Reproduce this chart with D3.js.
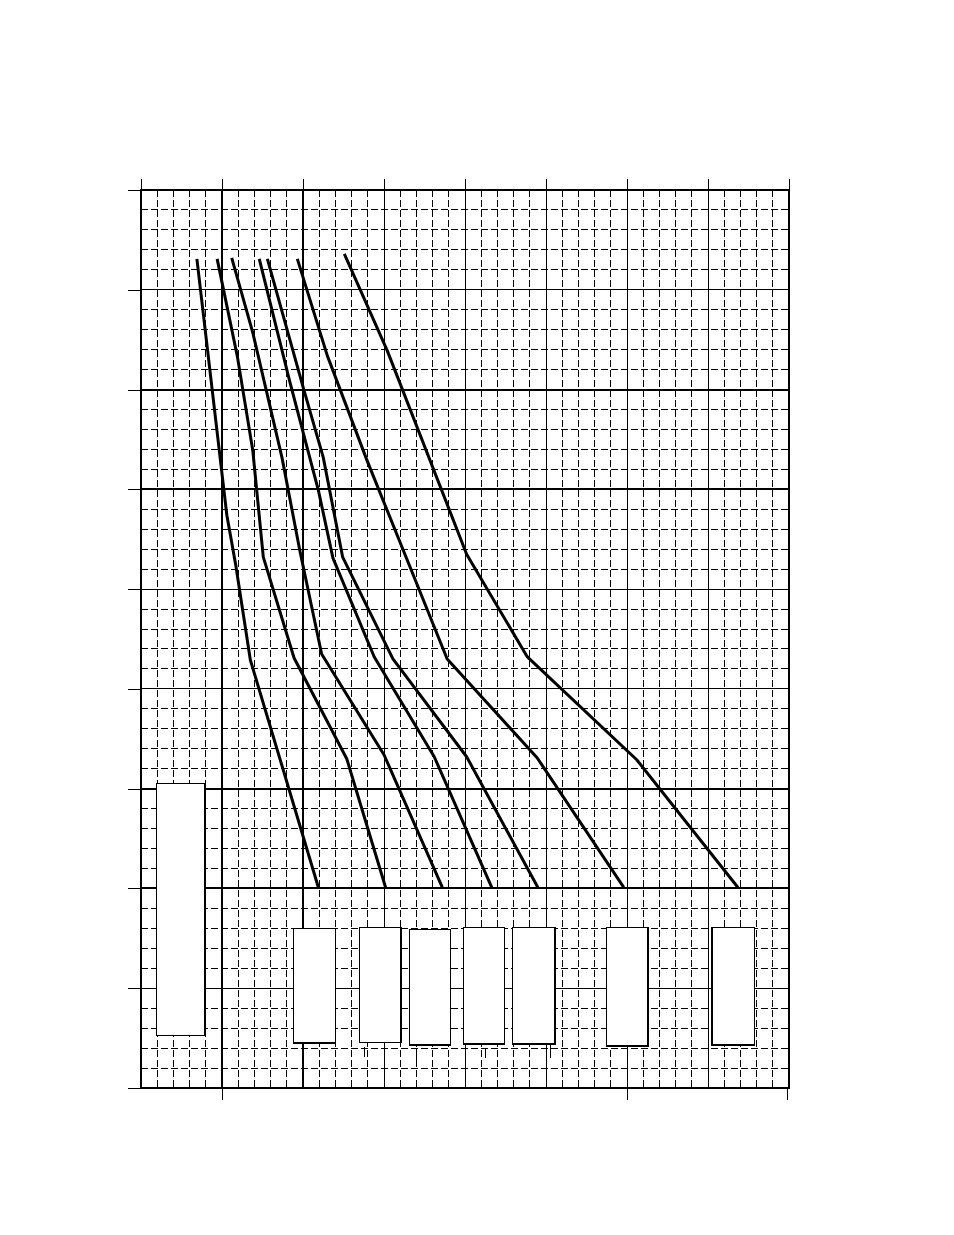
<!DOCTYPE html>
<html>
<head>
<meta charset="utf-8">
<script src="https://cdn.jsdelivr.net/npm/d3@7"></script>
<style>
  html, body { margin: 0; padding: 0; background: #fff; }
  svg { display: block; }
</style>
</head>
<body>
<div id="chart"></div>
<script>
// grid units: x runs 0..8 major columns, y runs 0..9 major rows (0 at the bottom)
const xMajor = d3.range(0, 9);
const yMajor = d3.range(0, 10);
const xThick = [1, 2];
const yThick = [2, 3, 6, 7];
const bottomTicks = [1, 6, 7.97];

// curves as [x, y] in grid units (left to right)
const curveA = [[0.69, 8.31], [1.06, 5.74], [1.17, 5.24], [1.35, 4.29], [2.19, 2.01]];
const curveB = [[0.94, 8.31], [1.19, 7.33], [1.38, 6.39], [1.51, 5.32], [1.89, 4.31], [2.54, 3.30], [3.02, 2.01]];
const curveC = [[1.12, 8.32], [1.38, 7.57], [1.74, 6.32], [1.96, 5.39], [2.23, 4.35], [3.00, 3.34], [3.72, 2.01]];
const curveD = [[1.46, 8.31], [1.84, 7.07], [2.19, 5.99], [2.37, 5.31], [2.88, 4.32], [3.62, 3.32], [4.33, 2.01]];
const curveE = [[1.56, 8.31], [2.01, 7.00], [2.25, 6.32], [2.49, 5.32], [3.11, 4.30], [4.02, 3.32], [4.90, 2.01]];
const curveF = [[1.93, 8.31], [2.30, 7.34], [2.79, 6.29], [3.78, 4.30], [4.89, 3.31], [5.96, 2.01]];
const curveG = [[2.51, 8.36], [3.04, 7.39], [4.02, 5.35], [4.77, 4.32], [6.12, 3.29], [7.37, 2.01]];
const curves = [curveA, curveB, curveC, curveD, curveE, curveF, curveG];

// empty label boxes: [x0, x1, yTop, yBottom]
const labelBoxes = [
    [0.19, 0.79, 3.05, 0.53],
    [1.88, 2.40, 1.60, 0.45],
    [2.70, 3.21, 1.61, 0.46],
    [3.31, 3.82, 1.59, 0.43],
    [3.98, 4.49, 1.61, 0.44],
    [4.59, 5.11, 1.61, 0.44],
    [5.75, 6.26, 1.61, 0.42],
    [7.05, 7.57, 1.61, 0.43]
];

// small stray strokes under the boxes: [x, yTop, yBottom]
const strayMarks = [
    [2.76, 0.41, 0.31],
    [3.40, 0.40, 0.27],
    [4.25, 0.40, 0.30],
    [5.05, 0.43, 0.30]
];

const width = 954;
const height = 1235;

const svg = d3.select('#chart')
    .append('svg')
    .attr('width', width)
    .attr('height', height)
    .style('background', '#fff');

const x = d3.scaleLinear().domain([0, 8]).range([141, 789]);
const y = d3.scaleLinear().domain([0, 9]).range([1088, 190]);

const grid = svg.append('g').attr('shape-rendering', 'crispEdges');

// minor dashed lines, 5 per major step
const minorX = d3.range(41).filter(i => i % 5).map(i => i / 5);
const minorY = d3.range(46).filter(i => i % 5).map(i => i / 5);

grid.selectAll('.minor-x')
    .data(minorX)
    .enter()
    .append('line')
    .attr('x1', d => x(d))
    .attr('x2', d => x(d))
    .attr('y1', y(9))
    .attr('y2', y(0))
    .attr('stroke', '#000')
    .attr('stroke-width', 1)
    .attr('stroke-dasharray', '7,3');

grid.selectAll('.minor-y')
    .data(minorY)
    .enter()
    .append('line')
    .attr('x1', x(0))
    .attr('x2', x(8))
    .attr('y1', d => y(d))
    .attr('y2', d => y(d))
    .attr('stroke', '#000')
    .attr('stroke-width', 1)
    .attr('stroke-dasharray', '7,3');

// major lines, some heavier than others
grid.selectAll('.major-x')
    .data(xMajor.slice(1, -1))
    .enter()
    .append('line')
    .attr('x1', d => x(d))
    .attr('x2', d => x(d))
    .attr('y1', y(9))
    .attr('y2', y(0))
    .attr('stroke', '#000')
    .attr('stroke-width', d => xThick.includes(d) ? 2 : 1);

grid.selectAll('.major-y')
    .data(yMajor.slice(1, -1))
    .enter()
    .append('line')
    .attr('x1', x(0))
    .attr('x2', x(8))
    .attr('y1', d => y(d))
    .attr('y2', d => y(d))
    .attr('stroke', '#000')
    .attr('stroke-width', d => yThick.includes(d) ? 2 : 1);

// ticks outside the frame
const axisLeft = svg.append('g')
    .attr('transform', `translate(${x(0)},0)`)
    .call(d3.axisLeft(y).tickValues(yMajor).tickSize(13).tickFormat(''));
const axisTop = svg.append('g')
    .attr('transform', `translate(0,${y(9)})`)
    .call(d3.axisTop(x).tickValues(xMajor).tickSize(11).tickFormat(''));
const axisBottom = svg.append('g')
    .attr('transform', `translate(0,${y(0)})`)
    .call(d3.axisBottom(x).tickValues(bottomTicks).tickSize(12).tickFormat(''));

[axisLeft, axisTop, axisBottom].forEach(g => {
    g.select('.domain').remove();
    g.selectAll('line').attr('stroke', '#000').attr('stroke-width', 1).attr('shape-rendering', 'crispEdges');
});

// frame
svg.append('rect')
    .attr('x', x(0))
    .attr('y', y(9))
    .attr('width', x(8) - x(0))
    .attr('height', y(0) - y(9))
    .attr('fill', 'none')
    .attr('stroke', '#000')
    .attr('stroke-width', 2.5)
    .attr('shape-rendering', 'crispEdges');

// curves
const line = d3.line()
    .x(d => x(d[0]))
    .y(d => y(d[1]));

svg.selectAll('.curve')
    .data(curves)
    .enter()
    .append('path')
    .attr('class', 'curve')
    .attr('d', line)
    .attr('fill', 'none')
    .attr('stroke', '#000')
    .attr('stroke-width', 3)
    .attr('stroke-linejoin', 'round');

// label boxes (empty)
svg.selectAll('.box')
    .data(labelBoxes)
    .enter()
    .append('rect')
    .attr('x', d => x(d[0]))
    .attr('y', d => y(d[2]))
    .attr('width', d => x(d[1]) - x(d[0]))
    .attr('height', d => y(d[3]) - y(d[2]))
    .attr('fill', '#fff')
    .attr('stroke', '#000')
    .attr('stroke-width', 1.2)
    .attr('shape-rendering', 'crispEdges');

svg.selectAll('.stray')
    .data(strayMarks)
    .enter()
    .append('line')
    .attr('x1', d => x(d[0]))
    .attr('x2', d => x(d[0]))
    .attr('y1', d => y(d[1]))
    .attr('y2', d => y(d[2]))
    .attr('stroke', '#000')
    .attr('stroke-width', 1)
    .attr('shape-rendering', 'crispEdges');
</script>
</body>
</html>
